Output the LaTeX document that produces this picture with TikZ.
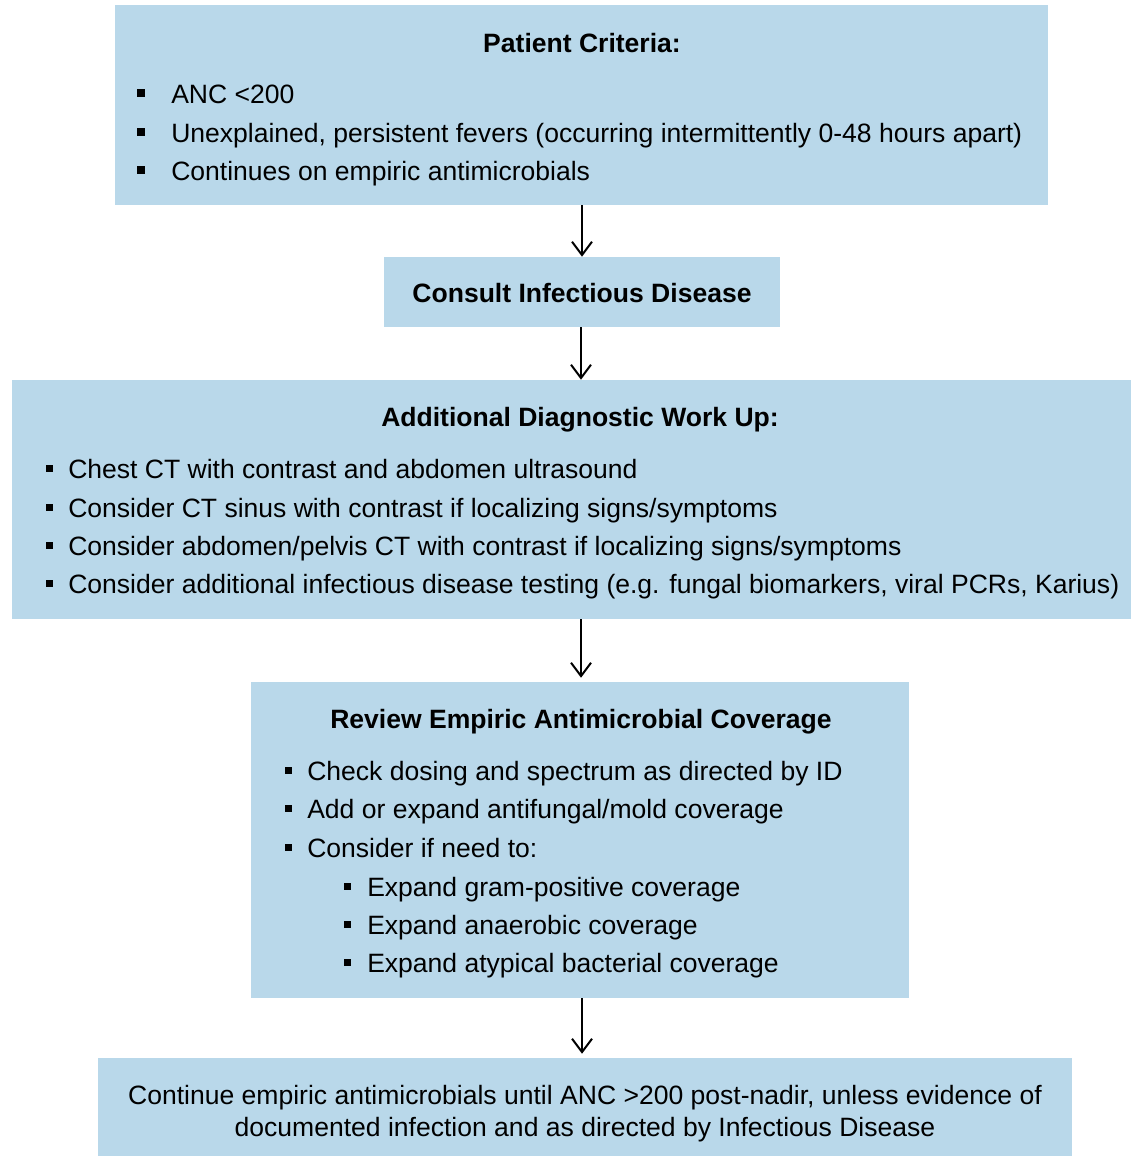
\documentclass[tikz,border=0pt]{standalone}
\usepackage{fontspec}
\setmainfont{Liberation Sans}
\usetikzlibrary{fit,arrows.meta}
\definecolor{boxblue}{RGB}{185,216,234}
\newcommand{\sqbul}[2]{\makebox[#1][l]{\raisebox{4.3pt}{\rule{#2}{#2}}}}
\tikzset{
  x=0.75pt, y=-0.75pt,
  box/.style={fill=boxblue, draw=none, inner sep=0pt},
  txt/.style={anchor=base west, inner sep=0pt, font=\fontsize{19.9pt}{24pt}\selectfont},
  ttl/.style={anchor=base, inner sep=0pt, font=\fontsize{19.9pt}{24pt}\selectfont\bfseries},
  ctr/.style={anchor=base, inner sep=0pt, font=\fontsize{19.9pt}{24pt}\selectfont},
  flow/.style={-{Straight Barb[length=10pt,width=15pt,line width=1.5pt]}, line width=1.5pt}
}
\begin{document}
\begin{tikzpicture}
\useasboundingbox (0,0) rectangle (1132,1157);
% boxes
\node[box, fit={(115,5) (1048,205)}] (b1) {};
\node[box, fit={(384,257) (780,327)}] (b2) {};
\node[box, fit={(12,380) (1131,619)}] (b3) {};
\node[box, fit={(251,682) (909,998)}] (b4) {};
\node[box, fit={(98,1058) (1072,1156)}] (b5) {};
% box 1
\node[ttl] (t1) at (582,52) {Patient Criteria:};
\node[txt] (t1a) at (137,103) {\sqbul{25.5pt}{6pt}ANC <200};
\node[txt] (t1b) at (137,142) {\sqbul{25.5pt}{6pt}Unexplained, persistent fevers (occurring intermittently 0-48 hours apart)};
\node[txt] (t1c) at (137,180) {\sqbul{25.5pt}{6pt}Continues on empiric antimicrobials};
% box 2
\node[ttl] (t2) at (582,302) {Consult Infectious Disease};
% box 3
\node[ttl] (t3) at (580,426) {Additional Diagnostic Work Up:};
\node[txt] (t3a) at (46,478) {\sqbul{16.5pt}{5.3pt}Chest CT with contrast and abdomen ultrasound};
\node[txt] (t3b) at (46,517) {\sqbul{16.5pt}{5.3pt}Consider CT sinus with contrast if localizing signs/symptoms};
\node[txt] (t3c) at (46,555) {\sqbul{16.5pt}{5.3pt}Consider abdomen/pelvis CT with contrast if localizing signs/symptoms};
\node[txt] (t3d) at (46,593) {\sqbul{16.5pt}{5.3pt}Consider additional infectious disease testing (e.g. fungal biomarkers, viral PCRs, Karius)};
% box 4
\node[ttl] (t4) at (581,728) {Review Empiric Antimicrobial Coverage};
\node[txt] (t4a) at (285,780) {\sqbul{16.5pt}{5.3pt}Check dosing and spectrum as directed by ID};
\node[txt] (t4b) at (285,818) {\sqbul{16.5pt}{5.3pt}Add or expand antifungal/mold coverage};
\node[txt] (t4c) at (285,857) {\sqbul{16.5pt}{5.3pt}Consider if need to:};
\node[txt] (t4d) at (344,896) {\sqbul{17.25pt}{5.3pt}Expand gram-positive coverage};
\node[txt] (t4e) at (344,934) {\sqbul{17.25pt}{5.3pt}Expand anaerobic coverage};
\node[txt] (t4f) at (344,972) {\sqbul{17.25pt}{5.3pt}Expand atypical bacterial coverage};
% box 5
\node[ctr] (t5a) at (585,1104) {Continue empiric antimicrobials until ANC >200 post-nadir, unless evidence of};
\node[ctr] (t5b) at (585,1136) {documented infection and as directed by Infectious Disease};
% arrows
\draw[flow] (b1.south -| 582,0) -- (b2.north -| 582,0);
\draw[flow] (b2.south -| 581,0) -- (b3.north -| 581,0);
\draw[flow] (b3.south -| 581,0) -- ([yshift=3pt]b4.north -| 581,0);
\draw[flow] (b4.south -| 582,0) -- ([yshift=3pt]b5.north -| 582,0);
\end{tikzpicture}
\end{document}
